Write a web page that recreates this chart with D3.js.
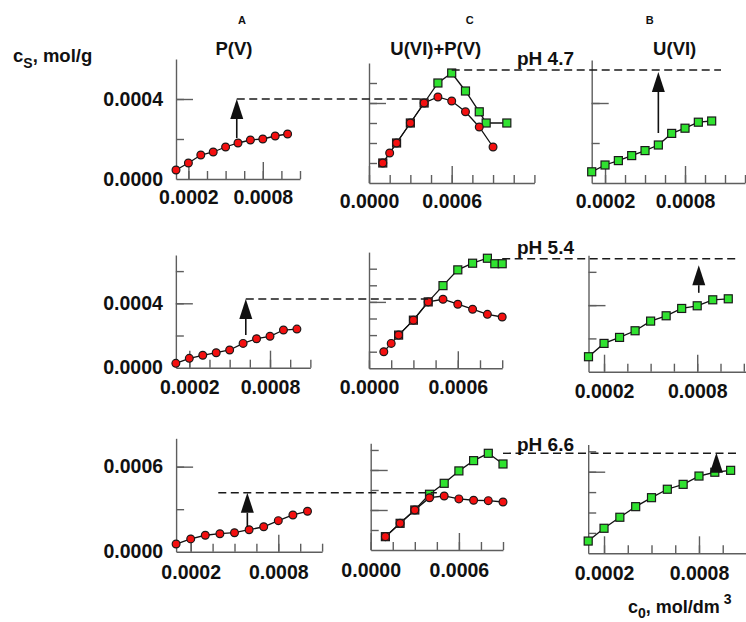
<!DOCTYPE html>
<html>
<head>
<meta charset="utf-8">
<script src="https://cdn.jsdelivr.net/npm/d3@7/dist/d3.min.js"></script>
<style>
  html, body { margin: 0; padding: 0; background: #fff; }
  svg { display: block; }
</style>
</head>
<body>
<svg id="fig" width="746" height="622"></svg>
<script>
// ---- data: sorbed amount c_s (mol/g) against initial concentration c0 (mol/dm3) ----
const c0 = [0.0001, 0.0002, 0.0003, 0.0004, 0.0005, 0.0006, 0.0007, 0.0008, 0.0009, 0.0010];

// pH 4.7
const pAlone47 = [0.000045, 0.00008, 0.00012, 0.000135, 0.00016, 0.00018, 0.000195, 0.0002, 0.000215, 0.000225];
const uAlone47 = [0.000056, 0.00009, 0.000112, 0.000137, 0.000162, 0.00019, 0.000248, 0.000274, 0.000304, 0.00031];
const cMixP47  = [0.0001, 0.00015, 0.0002, 0.0003, 0.0004, 0.0005, 0.0006, 0.0007, 0.0008, 0.0009];
const pMix47   = [0.0001, 0.00015, 0.0002, 0.0003, 0.0004, 0.00043, 0.00041, 0.000356, 0.00028, 0.00018];
const cMixU47  = [0.0001, 0.0002, 0.0003, 0.0004, 0.0005, 0.0006, 0.0007, 0.0008, 0.00085, 0.001];
const uMix47   = [0.0001, 0.0002, 0.0003, 0.0004, 0.0005, 0.00055, 0.00046, 0.000356, 0.0003, 0.0003];

// pH 5.4
const pAlone54 = [0.000027, 0.000058, 0.000077, 0.000093, 0.00011, 0.000151, 0.00018, 0.000195, 0.000234, 0.00024];
const uAlone54 = [0.00009, 0.00017, 0.000206, 0.000246, 0.000304, 0.000336, 0.00038, 0.000396, 0.000432, 0.000438];
const cMixP54  = [0.0001, 0.00015, 0.0002, 0.0003, 0.0004, 0.0005, 0.0006, 0.0007, 0.0008, 0.0009];
const pMix54   = [0.0001, 0.00015, 0.0002, 0.00029, 0.0004, 0.000416, 0.000386, 0.000356, 0.000325, 0.000309];
const cMixU54  = [0.0002, 0.0003, 0.0004, 0.0005, 0.0006, 0.0007, 0.0008, 0.00085, 0.0009];
const uMix54   = [0.0002, 0.00029, 0.0004, 0.000498, 0.000593, 0.000633, 0.000663, 0.00063, 0.00063];

// pH 6.6
const pAlone66 = [0.000054, 0.00009, 0.000116, 0.000127, 0.000134, 0.000155, 0.000176, 0.000219, 0.000259, 0.000285];
const uAlone66 = [0.00009, 0.000184, 0.000265, 0.000343, 0.000409, 0.000471, 0.000507, 0.000568, 0.000596, 0.00061];
const cMixP66  = [0.0001, 0.0002, 0.0003, 0.0004, 0.0005, 0.0006, 0.0007, 0.0008, 0.0009];
const pMix66   = [0.0001, 0.0002, 0.0003, 0.000392, 0.000405, 0.000383, 0.000373, 0.00037, 0.00036];
const cMixU66  = [0.0001, 0.0002, 0.0003, 0.0004, 0.0005, 0.0006, 0.0007, 0.0008, 0.0009];
const uMix66   = [0.0001, 0.0002, 0.0003, 0.000418, 0.0005, 0.000593, 0.00067, 0.000725, 0.000645];

// axis ticks
const xTicksSingle = [0.0002, 0.00035, 0.0005, 0.00065, 0.0008, 0.00095, 0.0011, 0.00125];
const xLabelsSingle = [0.0002, 0.0008];
const xTicksMix = [0, 0.00015, 0.0003, 0.00045, 0.0006, 0.00075, 0.0009, 0.00105, 0.0012];
const xLabelsMix = [0, 0.0006];
const yTicks47 = [0.0002, 0.0004];
const yTicksMix47 = [0.0001, 0.0002, 0.0003, 0.0004, 0.0005];
const yMajor47 = [0.0004];
const yTicks54 = [0.0002, 0.0004, 0.0006];
const yTicksMix54 = [0.0001, 0.0002, 0.0003, 0.0004, 0.0005, 0.0006];
const yMajor54 = [0.0004];
const yTicks66A = [0.0003, 0.0006];
const yTicks66 = [0.00015, 0.0003, 0.00045, 0.0006, 0.00075];
const yMajor66 = [0.0006];
const yMajorMix66 = [0.0003, 0.0006];

// annotation levels: arrow in single-sorbate panels, dashed guide lines
const arrowA = [ // [c0, from, to]
  [0.00059, 0.000205, 0.0004],
  [0.00062, 0.000203, 0.000427],
  [0.000588, 0.000176, 0.000416]
];
const guideA = [ // [start c0 in A, end c0 in C]
  [0.00059, 0.0004],
  [0.00062, 0.0004],
  [0.000389, 0.00045]
];
const guidePH = [ // [start c0 in C, level in C, end c0 in B]
  [0.0006, 0.000565, 0.00107],
  [0.0009, 0.00066, 0.00106],
  [0.0009, 0.000725, 0.00106]
];
const arrowB = [ // [c0, from, to]
  [0.0006, 0.00025, 0.000555],
  [0.00081, 0.000474, 0.00064],
  [0.00091, 0.0006, 0.00074]
];
const phLabels = ["pH 4.7", "pH 5.4", "pH 6.6"];

// ---- drawing ----
const FONT = "'Liberation Sans', Arial, Helvetica, sans-serif";
const RED = "#f41010";
const GREEN = "#30e230";
const AXIS = "#5e5e5e";
const fmt = d3.format(".4f");
const svg = d3.select("#fig");

function styleAxis(g) {
  g.attr("font-size", null).attr("font-family", null);
  g.selectAll("line, path").attr("stroke", AXIS).attr("stroke-width", 1.4);
  g.selectAll("text")
    .attr("fill", "#111")
    .style("font-family", FONT)
    .style("font-weight", "bold")
    .style("font-size", "19.5px");
}

function panel(p) {
  const x = d3.scaleLinear().domain(p.xDomain).range(p.xRange);
  const y = d3.scaleLinear().domain(p.yDomain).range(p.yRange);
  const g = svg.append("g");
  const y0 = p.yRange[0], x0 = p.xRange[0];
  const inX = p.xTicks.filter(v => v >= p.xDomain[0] - 1e-9 && v <= p.xDomain[1] + 1e-9);

  g.append("g").attr("transform", `translate(0,${y0})`)
    .call(d3.axisBottom(x).tickValues(inX).tickSize(-8).tickSizeOuter(0).tickFormat(""))
    .call(styleAxis);
  g.append("g").attr("transform", `translate(0,${y0})`)
    .call(d3.axisBottom(x).tickValues(p.xMajor).tickSize(-17).tickSizeOuter(0)
      .tickPadding(p.xPad).tickFormat(fmt))
    .call(a => a.select(".domain").remove())
    .call(styleAxis);

  g.append("g").attr("transform", `translate(${x0},0)`)
    .call(d3.axisLeft(y).tickValues(p.yTicks).tickSize(-8).tickSizeOuter(0).tickFormat(""))
    .call(styleAxis);
  g.append("g").attr("transform", `translate(${x0},0)`)
    .call(d3.axisLeft(y).tickValues(p.yMajor).tickSize(-17).tickSizeOuter(0)
      .tickPadding(13).tickFormat(p.yLabels ? fmt : ""))
    .call(a => a.select(".domain").remove())
    .call(styleAxis);
  if (p.yLabels) {
    g.append("g").attr("transform", `translate(${x0},0)`)
      .call(d3.axisLeft(y).tickValues([0]).tickSize(0).tickPadding(13).tickFormat(fmt))
      .call(a => a.select(".domain").remove())
      .call(styleAxis);
  }
  return { x, y, g };
}

const line = (sc) => d3.line().x(d => sc.x(d[0])).y(d => sc.y(d[1]));

function drawLine(sc, cs, vs) {
  sc.g.append("path")
    .datum(cs.map((c, i) => [c, vs[i]]))
    .attr("d", line(sc))
    .attr("fill", "none").attr("stroke", "#111").attr("stroke-width", 1.3);
}
function drawCircles(sc, cs, vs) {
  sc.g.append("g").selectAll("circle")
    .data(cs.map((c, i) => [c, vs[i]])).join("circle")
    .attr("cx", d => sc.x(d[0])).attr("cy", d => sc.y(d[1])).attr("r", 3.9)
    .attr("fill", RED).attr("stroke", "#1a1a1a").attr("stroke-width", 1.2);
}
// squares sharing a value with the phosphate series are filled red
function drawSquares(sc, cs, vs, refC, refV) {
  const s = 8;
  sc.g.append("g").selectAll("rect")
    .data(cs.map((c, i) => [c, vs[i]])).join("rect")
    .attr("x", d => sc.x(d[0]) - s / 2).attr("y", d => sc.y(d[1]) - s / 2)
    .attr("width", s).attr("height", s)
    .attr("fill", d => {
      if (!refC) return GREEN;
      const k = refC.findIndex(c => Math.abs(c - d[0]) < 1e-9);
      return (k >= 0 && Math.abs(refV[k] - d[1]) < 1e-9) ? RED : GREEN;
    })
    .attr("stroke", "#1a1a1a").attr("stroke-width", 1.2);
}

function arrow(sc, c, from, to) {
  const xa = sc.x(c), ya = sc.y(from), yt = sc.y(to);
  const hw = 6.5, hh = 20;
  if (ya - (yt + hh) > 0) {
    sc.g.append("line").attr("x1", xa).attr("x2", xa).attr("y1", ya).attr("y2", yt + hh)
      .attr("stroke", "#111").attr("stroke-width", 1.6);
  }
  sc.g.append("path")
    .attr("d", `M${xa},${yt} L${xa - hw},${yt + hh} L${xa + hw},${yt + hh} Z`)
    .attr("fill", "#111");
}

function dashed(x1, x2, yy) {
  svg.append("line").attr("x1", x1).attr("x2", x2).attr("y1", yy).attr("y2", yy)
    .attr("stroke", "#1a1a1a").attr("stroke-width", 1.4).attr("stroke-dasharray", "8,4.5");
}

// panel geometry for the three pH rows
const layout = [
  {
    A: { xDomain: [0.0001, 0.0011], xRange: [176, 300], yDomain: [0, 0.0006], yRange: [179, 59], xPad: 11 },
    C: { xDomain: [0, 0.0012], xRange: [369, 534.4], yDomain: [0, 0.0006], yRange: [183, 63], xPad: 11 },
    B: { xDomain: [0.0001, 0.00125], xRange: [591.7, 745], yDomain: [0, 0.000615], yRange: [183, 60], xPad: 11 },
    phY: 65
  },
  {
    A: { xDomain: [0.0001, 0.0011], xRange: [175.85, 310.35], yDomain: [0, 0.0007], yRange: [367.7, 255], xPad: 12 },
    C: { xDomain: [0, 0.0009], xRange: [369, 502.2], yDomain: [0, 0.0007], yRange: [368.3, 252.1], xPad: 12 },
    B: { xDomain: [0.0001, 0.00125], xRange: [588.5, 767.1], yDomain: [0, 0.0007], yRange: [371.7, 255.2], xPad: 12 },
    phY: 254
  },
  {
    A: { xDomain: [0.0001, 0.0011], xRange: [176.1, 322.1], yDomain: [0, 0.0008], yRange: [551.7, 438.3], xPad: 13 },
    C: { xDomain: [0, 0.0009], xRange: [370.7, 503], yDomain: [0, 0.0008], yRange: [550, 443.3], xPad: 13 },
    B: { xDomain: [0.0001, 0.00125], xRange: [588.2, 770.2], yDomain: [0, 0.0008], yRange: [553.3, 444.5], xPad: 13 },
    phY: 451
  }
];

const rows = [
  { pA: pAlone47, uB: uAlone47, cP: cMixP47, pM: pMix47, cU: cMixU47, uM: uMix47,
    yA: yTicks47, yAM: yMajor47, yC: yTicksMix47, yCM: yMajor47, yB: yTicks47, yBM: yMajor47 },
  { pA: pAlone54, uB: uAlone54, cP: cMixP54, pM: pMix54, cU: cMixU54, uM: uMix54,
    yA: yTicks54, yAM: yMajor54, yC: yTicksMix54, yCM: yMajor54, yB: yTicks54, yBM: yMajor54 },
  { pA: pAlone66, uB: uAlone66, cP: cMixP66, pM: pMix66, cU: cMixU66, uM: uMix66,
    yA: yTicks66A, yAM: yMajor66, yC: yTicks66, yCM: yMajorMix66, yB: yTicks66, yBM: yMajor66 }
];

rows.forEach((r, i) => {
  const L = layout[i];
  const A = panel(Object.assign({}, L.A, { xTicks: xTicksSingle, xMajor: xLabelsSingle,
    yTicks: r.yA, yMajor: r.yAM, yLabels: true }));
  const C = panel(Object.assign({}, L.C, { xTicks: xTicksMix, xMajor: xLabelsMix,
    yTicks: r.yC, yMajor: r.yCM, yLabels: false }));
  const B = panel(Object.assign({}, L.B, { xTicks: xTicksSingle, xMajor: xLabelsSingle,
    yTicks: r.yB, yMajor: r.yBM, yLabels: false }));

  // dashed guides
  const [gs, ge] = guideA[i];
  dashed(A.x(gs), C.x(ge), A.y(arrowA[i][2]));
  const [ps, lvl, pe] = guidePH[i];
  dashed(C.x(ps), B.x(pe), C.y(lvl));

  // P(V) alone
  drawLine(A, c0, r.pA);
  drawCircles(A, c0, r.pA);
  arrow(A, ...arrowA[i]);

  // U(VI)+P(V)
  drawLine(C, r.cU, r.uM);
  drawLine(C, r.cP, r.pM);
  drawSquares(C, r.cU, r.uM, r.cP, r.pM);
  drawCircles(C, r.cP, r.pM);

  // U(VI) alone
  drawLine(B, c0, r.uB);
  drawSquares(B, c0, r.uB);
  arrow(B, ...arrowB[i]);

  svg.append("text").attr("x", 517).attr("y", L.phY).text(phLabels[i])
    .style("font-family", FONT).style("font-weight", "bold").style("font-size", "19px").attr("fill", "#111");
});

// headings
function label(x, y, txt, size, anchor) {
  return svg.append("text").attr("x", x).attr("y", y).attr("text-anchor", anchor || "middle")
    .style("font-family", FONT).style("font-weight", "bold").style("font-size", size + "px")
    .attr("fill", "#111").text(txt);
}
label(242, 24, "A", 11);
label(469.7, 24, "C", 11);
label(649.7, 24, "B", 11);
label(234, 55, "P(V)", 18.5);
label(435.8, 55, "U(VI)+P(V)", 18.5);
label(674.7, 55, "U(VI)", 18.5);

// axis titles
const yt = label(13, 61.7, "", 18.5, "start");
yt.append("tspan").text("c");
yt.append("tspan").attr("dy", 6).style("font-size", "14px").text("S");
yt.append("tspan").attr("dy", -6).text(", mol/g");

const xt = label(628, 613, "", 18, "start");
xt.append("tspan").text("c");
xt.append("tspan").attr("dy", 5).style("font-size", "14px").text("0");
xt.append("tspan").attr("dy", -5).text(", mol/dm");
xt.append("tspan").attr("dx", 4).attr("dy", -9).style("font-size", "14px").text("3");
</script>
</body>
</html>
